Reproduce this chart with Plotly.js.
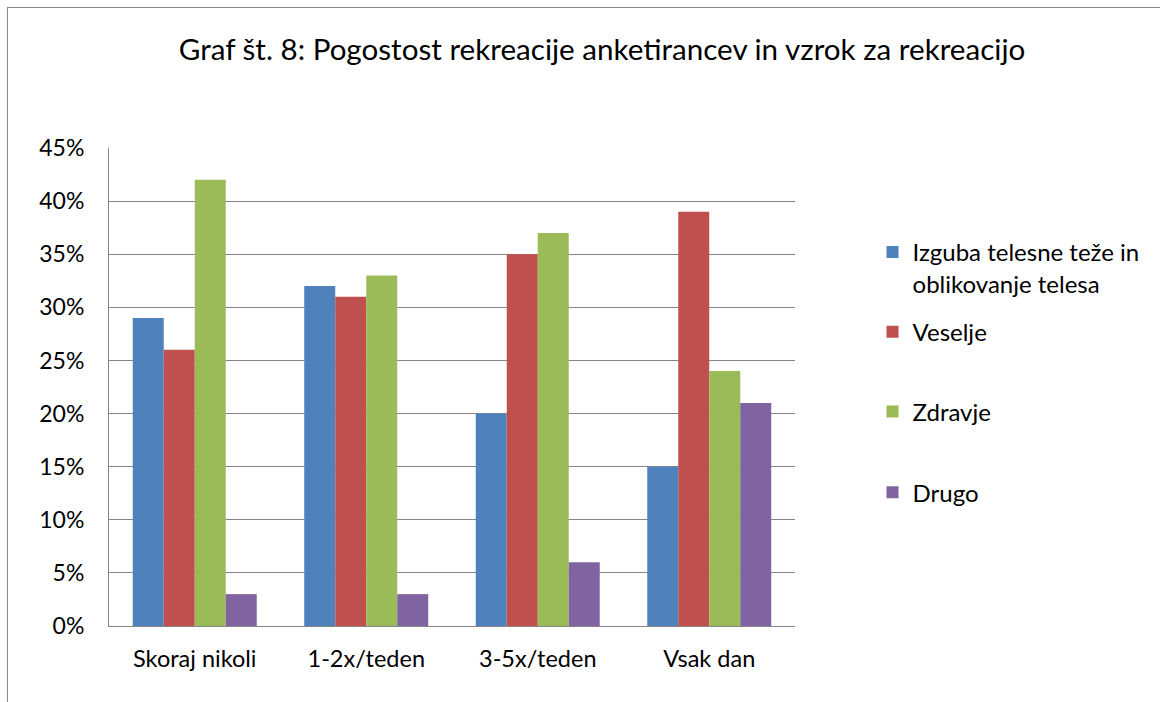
<!DOCTYPE html>
<html><head><meta charset="utf-8">
<script src="https://cdn.plot.ly/plotly-3.0.1.min.js"></script>
<style>html,body{margin:0;padding:0;overflow:hidden;background:#fff}
#frame{position:absolute;left:7px;top:7px;width:1300px;height:900px;border-left:1.5px solid #878787;border-top:1.5px solid #878787;pointer-events:none}
</style></head>
<body><div id="chart" style="width:1160px;height:702px;"></div><div id="frame"></div>
<script>
const categories = ["Skoraj nikoli", "1-2x/teden", "3-5x/teden", "Vsak dan"];
const seriesNames = ["Izguba telesne teže in<br>oblikovanje telesa", "Veselje", "Zdravje", "Drugo"];
const izguba = [0.29, 0.32, 0.20, 0.15];
const veselje = [0.26, 0.31, 0.35, 0.39];
const zdravje = [0.42, 0.33, 0.37, 0.24];
const drugo = [0.03, 0.03, 0.06, 0.21];
const colors = ["#4F81BD", "#C0504D", "#9BBB59", "#8064A2"];
const values = [izguba, veselje, zdravje, drugo];
const legendIds = ["legend", "legend2", "legend3", "legend4"];
const legendY = [0.749, 0.615, 0.448, 0.279];

const font = "Lato, 'Open Sans', sans-serif";
const traces = values.map((v, i) => ({
  type: "bar", x: categories, y: v, name: seriesNames[i],
  marker: {color: colors[i], line: {width: 0}},
  legend: legendIds[i], hoverinfo: "none"
}));
const layout = {
  width: 1160, height: 702,
  margin: {l: 109, r: 365, t: 148, b: 75.5},
  paper_bgcolor: "#fff", plot_bgcolor: "#fff",
  font: {family: font, color: "#000", size: 23},
  title: {text: "Graf št. 8: Pogostost rekreacije anketirancev in vzrok za rekreacijo",
    font: {family: font, size: 29.6, color: "#000"}, x: 0.519, xanchor: "center", y: 0.929, yanchor: "middle"},
  barmode: "group", bargap: 0.277, bargroupgap: 0,
  xaxis: {showgrid: false, showline: true, linecolor: "#868686", linewidth: 1, ticks: "", ticklabelstandoff: 12,
    tickfont: {family: font, size: 23.5, color: "#000"}, fixedrange: true},
  yaxis: {range: [0, 0.45], dtick: 0.05, tickformat: ".0%", showgrid: true, gridcolor: "#868686", gridwidth: 1,
    showline: true, linecolor: "#868686", linewidth: 1, zeroline: false, ticks: "", ticklabelstandoff: 19,
    tickfont: {family: font, size: 23, color: "#000"}, fixedrange: true},
  showlegend: true
};
legendIds.forEach((id, i) => {
  layout[id] = {x: 1.113, xanchor: "left", y: legendY[i], yanchor: "middle", valign: "top",
    font: {family: font, size: 24, color: "#000"}, bgcolor: "rgba(0,0,0,0)", borderwidth: 0, itemwidth: 30, itemclick: false, itemdoubleclick: false};
});
Plotly.newPlot("chart", traces, layout, {displayModeBar: false, staticPlot: true});
</script></body></html>
